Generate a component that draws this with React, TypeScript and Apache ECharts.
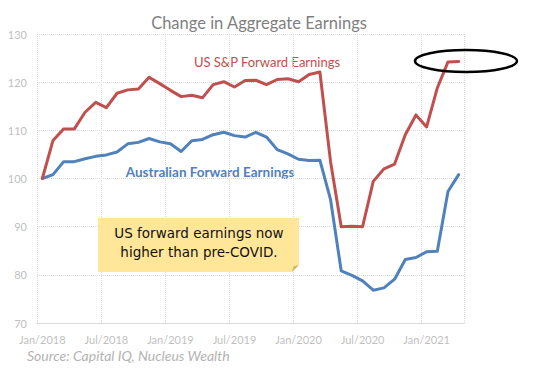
import React, { useEffect, useRef } from "react";
import * as echarts from "echarts";

const months = [
  "Jan/2018", "Feb/2018", "Mar/2018", "Apr/2018", "May/2018", "Jun/2018",
  "Jul/2018", "Aug/2018", "Sep/2018", "Oct/2018", "Nov/2018", "Dec/2018",
  "Jan/2019", "Feb/2019", "Mar/2019", "Apr/2019", "May/2019", "Jun/2019",
  "Jul/2019", "Aug/2019", "Sep/2019", "Oct/2019", "Nov/2019", "Dec/2019",
  "Jan/2020", "Feb/2020", "Mar/2020", "Apr/2020", "May/2020", "Jun/2020",
  "Jul/2020", "Aug/2020", "Sep/2020", "Oct/2020", "Nov/2020", "Dec/2020",
  "Jan/2021", "Feb/2021", "Mar/2021", "Apr/2021",
];

const usEarnings = [
  100, 107.9, 110.3, 110.3, 113.75, 115.8, 114.7, 117.7, 118.4, 118.6,
  121.0, 119.7, 118.3, 117.0, 117.3, 116.75, 119.5, 120.1, 119.0, 120.35,
  120.4, 119.5, 120.55, 120.7, 120.1, 121.6, 122.1, 103.5, 90.0, 90.1,
  90.0, 99.4, 102.0, 103.0, 109.1, 113.2, 110.7, 118.8, 124.2, 124.3,
];

const auEarnings = [
  100, 100.8, 103.5, 103.5, 104.1, 104.6, 104.9, 105.5, 107.2, 107.5,
  108.3, 107.6, 107.2, 105.6, 107.85, 108.1, 109.1, 109.6, 108.9, 108.6,
  109.6, 108.6, 106.0, 105.1, 104.0, 103.75, 103.8, 95.6, 80.8, 79.9,
  78.75, 76.8, 77.3, 79.1, 83.2, 83.6, 84.8, 84.9, 97.3, 100.8,
];

const yMin = 70;
const yMax = 130;
const yStep = 10;

const TITLE = "Change in Aggregate Earnings";
const US_LABEL = "US S&P Forward Earnings";
const AU_LABEL = "Australian Forward Earnings";
const NOTE_LINES = ["US forward earnings now", "higher than pre-COVID."];
const SOURCE = "Source: Capital IQ, Nucleus Wealth";

const RED = "#c0504d";
const BLUE = "#4f81bd";
const FONT = "Lato, 'Open Sans', sans-serif";

export default function App() {
  const ref = useRef<HTMLDivElement>(null);
  useEffect(() => {
    if (!ref.current) return;
    const chart = echarts.init(ref.current, undefined, { renderer: "svg" });
    chart.setOption({
      animation: false,
      backgroundColor: "#ffffff",
      grid: { left: 37, right: 69, top: 34, bottom: 50 },
      xAxis: {
        type: "category",
        data: months,
        boundaryGap: true,
        axisLine: { show: true, lineStyle: { color: "#d9d9d9", width: 1 } },
        axisTick: { show: false },
        axisLabel: {
          interval: 5,
          color: "#bfbfbf",
          fontSize: 11,
          fontFamily: FONT,
          margin: 11,
        },
        splitLine: {
          show: true,
          interval: 5,
          lineStyle: { color: "#d9d9d9", type: "dotted", width: 1 },
        },
      },
      yAxis: {
        type: "value",
        min: yMin,
        max: yMax,
        interval: yStep,
        axisLine: { show: false },
        axisTick: { show: false },
        axisLabel: { color: "#bfbfbf", fontSize: 11, fontFamily: FONT, margin: 10 },
        splitLine: { lineStyle: { color: "#d9d9d9", type: "dotted", width: 1 } },
      },
      series: [
        {
          name: AU_LABEL,
          type: "line",
          data: auEarnings,
          showSymbol: false,
          lineStyle: { color: BLUE, width: 3, join: "round", cap: "round" },
          itemStyle: { color: BLUE },
        },
        {
          name: US_LABEL,
          type: "line",
          data: usEarnings,
          showSymbol: false,
          lineStyle: { color: RED, width: 3, join: "round", cap: "round" },
          itemStyle: { color: RED },
        },
      ],
      graphic: [
        {
          type: "text",
          x: 259,
          y: 23,
          style: {
            text: TITLE,
            fill: "#7f7f7f",
            fontSize: 16.5,
            fontFamily: FONT,
            align: "center",
            verticalAlign: "middle",
          },
        },
        {
          type: "text",
          x: 267,
          y: 62,
          style: {
            text: US_LABEL,
            fill: RED,
            fontSize: 13,
            fontFamily: FONT,
            align: "center",
            verticalAlign: "middle",
          },
        },
        {
          type: "text",
          x: 210,
          y: 172,
          style: {
            text: AU_LABEL,
            fill: BLUE,
            fontSize: 13.5,
            fontWeight: "bold",
            fontFamily: FONT,
            align: "center",
            verticalAlign: "middle",
          },
        },
        {
          type: "polygon",
          z: 10,
          shape: {
            points: [
              [98, 218],
              [299, 218],
              [299, 265],
              [292, 272],
              [98, 272],
            ],
          },
          style: { fill: "#ffe699" },
        },
        {
          type: "polygon",
          z: 11,
          shape: {
            points: [
              [292, 272],
              [299, 265],
              [293.5, 266.5],
            ],
          },
          style: { fill: "#cdb46e" },
        },
        {
          type: "text",
          z: 12,
          x: 199,
          y: 233,
          style: {
            text: NOTE_LINES[0],
            fill: "#111111",
            fontSize: 13.5,
            fontFamily: "'DejaVu Sans', sans-serif",
            align: "center",
            verticalAlign: "middle",
          },
        },
        {
          type: "text",
          z: 12,
          x: 199,
          y: 252,
          style: {
            text: NOTE_LINES[1],
            fill: "#111111",
            fontSize: 13.5,
            fontFamily: "'DejaVu Sans', sans-serif",
            align: "center",
            verticalAlign: "middle",
          },
        },
        {
          type: "ellipse",
          z: 20,
          shape: { cx: 466, cy: 61, rx: 51, ry: 11 },
          style: { fill: "none", stroke: "#000000", lineWidth: 2.5 },
        },
        {
          type: "text",
          x: 27,
          y: 355,
          style: {
            text: SOURCE,
            fill: "#b3b3b3",
            fontSize: 14,
            fontStyle: "italic",
            fontFamily: FONT,
            align: "left",
            verticalAlign: "middle",
          },
        },
      ],
    });
    return () => chart.dispose();
  }, []);
  return (
    <div
      ref={ref}
      style={{ position: "fixed", left: 0, top: 0, width: 533, height: 373 }}
    />
  );
}
